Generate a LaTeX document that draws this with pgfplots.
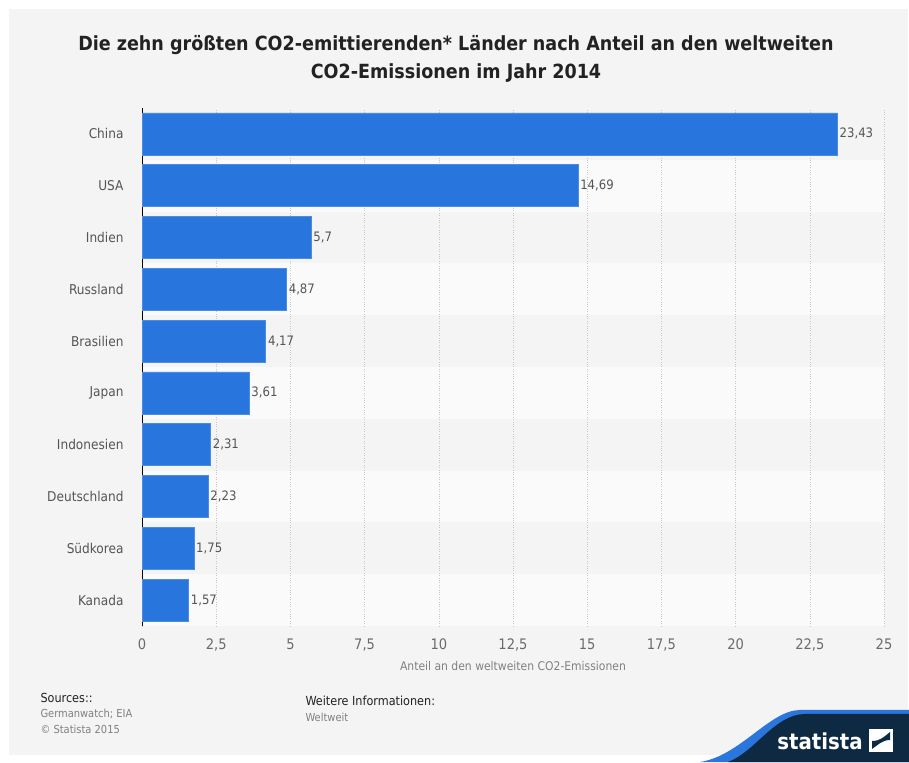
\documentclass[border=0pt]{standalone}
\usepackage{pgfplots}
\pgfplotsset{compat=1.18}
\usepackage{fontspec}
\setmainfont{DejaVu Sans Condensed}
\definecolor{bgc}{HTML}{F4F4F4}
\definecolor{bandc}{HTML}{FAFAFA}
\definecolor{barc}{HTML}{2875DD}
\definecolor{baredge}{HTML}{4A8BE3}
\definecolor{navy}{HTML}{0E2A43}
\definecolor{logoblue}{HTML}{2A76DD}
\definecolor{titlec}{HTML}{222222}
\definecolor{tickc}{HTML}{6A6A6A}
\definecolor{valc}{HTML}{555555}
\begin{document}
\begin{tikzpicture}[x=1pt,y=1pt]
\useasboundingbox (0,0) rectangle (909,762);
\fill[white] (0,0) rectangle (909,762);
\fill[bgc] (9,7) rectangle (908,753);
% alternating row bands
\foreach \i in {0,2,4,6,8} {
  \fill[bandc] (142,{136+51.8*\i}) rectangle (884,{136+51.8*(\i+1)});
}
% title
\node[font=\bfseries\fontsize{19.5}{24}\selectfont, text=titlec, align=center] at (456,703)
  {Die zehn größten CO2-emittierenden* Länder nach Anteil an den weltweiten\\[4pt]CO2-Emissionen im Jahr 2014};
\begin{axis}[
  at={(142pt,136pt)}, anchor=south west,
  scale only axis, width=742pt, height=518pt,
  xmin=0, xmax=25, ymin=-0.5, ymax=9.5,
  xbar, bar width=42pt,
  axis y line*=left, axis x line*=bottom,
  x axis line style={draw=none},
  y axis line style={black, line width=0.8pt},
  major tick length=0pt,
  ytick={0,...,9},
  yticklabels={Kanada,Südkorea,Deutschland,Indonesien,Japan,Brasilien,Russland,Indien,USA,China},
  xtick={0,2.5,...,25},
  xmajorgrids, grid style={dotted, black!22},
  /pgf/number format/use comma,
  /pgf/number format/assume math mode=true,
  xticklabel style={font=\fontsize{14.5}{16}\selectfont, text=tickc, yshift=-9pt},
  yticklabel style={font=\fontsize{13.5}{15}\selectfont, text=valc, xshift=-15pt},
  xlabel={Anteil an den weltweiten CO2-Emissionen},
  xlabel style={font=\fontsize{12}{14}\selectfont, text=gray, yshift=-4pt},
  nodes near coords,
  nodes near coords style={font=\fontsize{13}{15}\selectfont, text=valc, anchor=west, inner sep=2pt,
    /pgf/number format/use comma, /pgf/number format/assume math mode=true},
]
\addplot[fill=barc, draw=baredge, line width=0.6pt] coordinates {
  (1.57,0) (1.75,1) (2.23,2) (2.31,3) (3.61,4) (4.17,5) (4.87,6) (5.7,7) (14.69,8) (23.43,9)
};
\end{axis}
% footer
\node[anchor=west, font=\fontsize{12.5}{14}\selectfont, text=titlec] at (37,64) {Sources::};
\node[anchor=west, font=\fontsize{11}{13}\selectfont, text=gray] at (37,48) {Germanwatch; EIA};
\node[anchor=west, font=\fontsize{11}{13}\selectfont, text=gray] at (37,33) {© Statista 2015};
\node[anchor=west, font=\fontsize{12.5}{14}\selectfont, text=titlec] at (302,61) {Weitere Informationen:};
\node[anchor=west, font=\fontsize{11}{13}\selectfont, text=gray] at (302,45) {Weltweit};
% logo
\fill[logoblue] (700,0) .. controls (740,6) and (770,52) .. (800,52) -- (909,52) -- (909,0) -- cycle;
\fill[navy] (728,0) .. controls (755,10) and (775,48) .. (805,48) -- (909,48) -- (909,0) -- cycle;
\node[text=white, font=\bfseries\fontsize{22}{24}\selectfont] at (820,21) {statista};
\fill[white] (869,10) rectangle (893,33);
\fill[navy] (872,13) -- (872,21) .. controls (880,21) and (884,25) .. (890,30) -- (890,22) .. controls (882,22) and (878,17) .. (872,13) -- cycle;
\end{tikzpicture}
\end{document}
